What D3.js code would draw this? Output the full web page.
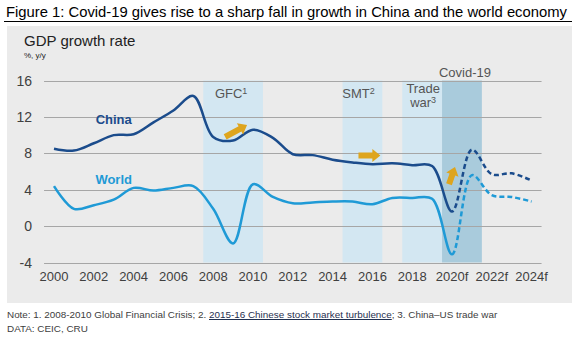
<html>
<head>
<script src="https://d3js.org/d3.v7.min.js"></script>
<style>
body { margin:0; background:#fff; }
text { font-family: Arial, "Liberation Sans", sans-serif; }
</style>
</head>
<body>
<div id="chart"></div>
<script>
// years on the x axis
var years = [2000,2001,2002,2003,2004,2005,2006,2007,2008,2009,2010,2011,2012,
	2013,2014,2015,2016,2017,2018,2019,2020,2021,2022,2023,2024];
// GDP growth, %, y/y
var china = [8.5,8.3,9.1,10.0,10.1,11.4,12.7,14.3,9.8,9.4,10.6,9.7,7.9,
	7.8,7.3,7.0,6.8,6.9,6.7,6.6,1.6,8.4,5.7,5.8,5.0];
var world = [4.4,1.9,2.3,2.9,4.2,3.9,4.2,4.4,1.9,-1.9,4.6,3.2,2.5,
	2.6,2.7,2.7,2.4,3.1,3.1,3.0,-3.1,5.6,3.4,3.2,2.7];
var forecastFrom = 2020;
var xTicks = [2000,2002,2004,2006,2008,2010,2012,2014,2016,2018,2020,2022,2024];
var xTickLabels = ["2000","2002","2004","2006","2008","2010","2012","2014","2016","2018","2020f","2022f","2024f"];
var yTicks = [-4,0,4,8,12,16];
// shaded periods
var bandNames = ["GFC","SMT","Trade war","Covid-19"];
var bandStart = [2008,2015,2018,2020];
var bandEnd = [2010,2016,2019,2021];
// arrows: [year0, value0, year1, value1]
var arrows = [[2008.6,9.8,2009.7,11.1],[2015.3,7.75,2016.4,7.75],[2019.85,4.6,2020.15,6.5]];

var width = 581, height = 338;
var svg = d3.select("#chart").append("svg")
	.attr("width", width).attr("height", height);

svg.append("rect").attr("width", width).attr("height", height).attr("fill", "#fff");

// title + rule
svg.append("text").attr("x", 6).attr("y", 17)
	.style("font-size", "14.8px").attr("fill", "#000")
	.text("Figure 1: Covid-19 gives rise to a sharp fall in growth in China and the world economy");
svg.append("line").attr("x1", 4).attr("x2", 572).attr("y1", 21.5).attr("y2", 21.5)
	.attr("stroke", "#000").attr("stroke-width", 1);

// grey panel
svg.append("rect").attr("x", 7).attr("y", 26).attr("width", 565).attr("height", 277)
	.attr("fill", "#ebebeb");

svg.append("text").attr("x", 24).attr("y", 45.5)
	.style("font-size", "15px").attr("fill", "#222").text("GDP growth rate");
svg.append("text").attr("x", 24).attr("y", 57.5)
	.style("font-size", "8px").attr("fill", "#222").text("%, y/y");

var x = d3.scaleLinear().domain([2000, 2024]).range([54, 531.6]);
var y = d3.scaleLinear().domain([-4, 16]).range([262.5, 80.5]);

// bands
var bands = bandNames.map(function(n, i){ return {name:n, s:bandStart[i], e:bandEnd[i]}; });
svg.append("g").selectAll("rect").data(bands).enter().append("rect")
	.attr("x", function(d){ return x(d.s - 0.5); })
	.attr("width", function(d){ return x(d.e + 0.5) - x(d.s - 0.5); })
	.attr("y", y(16)).attr("height", y(-4) - y(16))
	.attr("fill", function(d){ return d.name == "Covid-19" ? "#a9cbdc" : "#d3e7f2"; });

// gridlines
svg.append("g").selectAll("line").data(yTicks).enter().append("line")
	.attr("x1", x(1999.5)).attr("x2", x(2024.5))
	.attr("y1", function(d){ return Math.round(y(d)) + 0.5; })
	.attr("y2", function(d){ return Math.round(y(d)) + 0.5; })
	.attr("stroke", "#a6a6a6").attr("stroke-width", 1);

// y axis labels
svg.append("g").selectAll("text").data(yTicks).enter().append("text")
	.attr("x", 32).attr("y", function(d){ return y(d) + 5; })
	.attr("text-anchor", "end").style("font-size", "14px").attr("fill", "#404040")
	.text(function(d){ return d; });

// x axis labels
svg.append("g").selectAll("text").data(xTicks).enter().append("text")
	.attr("x", function(d){ return x(d); }).attr("y", 281)
	.attr("text-anchor", "middle").style("font-size", "13px").attr("fill", "#404040")
	.text(function(d, i){ return xTickLabels[i]; });

// band labels
function bandLabel(lines, yr, base){
	var t = svg.append("text").attr("text-anchor", "middle")
		.style("font-size", "13px").attr("fill", "#555");
	lines.forEach(function(l, i){
		var ts = t.append("tspan").attr("x", x(yr)).attr("y", base + i * 14.5).text(l[0]);
		if (l[1]) t.append("tspan").attr("dy", -4).style("font-size", "9px").text(l[1]);
		if (l[1]) t.append("tspan").attr("dy", 4).text("");
	});
}
bandLabel([["GFC","1"]], 2008.9, 97.5);
bandLabel([["SMT","2"]], 2015.3, 97.5);
bandLabel([["Trade",""],["war","3"]], 2018.55, 92.5);
bandLabel([["Covid-19",""]], 2020.65, 77);

// lines, solid up to forecastFrom, dashed after
var defs = svg.append("defs");
defs.append("clipPath").attr("id", "hist").append("rect")
	.attr("x", 0).attr("y", 0).attr("width", x(forecastFrom)).attr("height", height);
defs.append("clipPath").attr("id", "fcst").append("rect")
	.attr("x", x(forecastFrom)).attr("y", 0).attr("width", width).attr("height", height);

var line = d3.line()
	.x(function(d){ return x(d[0]); })
	.y(function(d){ return y(d[1]); })
	.curve(d3.curveCatmullRom.alpha(0.5));

var series = [{vals: china, color: "#1b4c8c"}, {vals: world, color: "#1f9ad6"}];
series.forEach(function(s){
	var pts = years.map(function(yr, i){ return [yr, s.vals[i]]; });
	svg.append("path").attr("d", line(pts)).attr("fill", "none")
		.attr("stroke", s.color).attr("stroke-width", 2.5)
		.attr("clip-path", "url(#hist)");
	svg.append("path").attr("d", line(pts)).attr("fill", "none")
		.attr("stroke", s.color).attr("stroke-width", 2.5)
		.attr("stroke-dasharray", "5,3")
		.attr("clip-path", "url(#fcst)");
});

svg.append("text").attr("x", x(2003)).attr("y", y(11.2)).attr("text-anchor", "middle")
	.style("font-size", "13px").style("font-weight", "bold").attr("fill", "#1b4c8c").text("China");
svg.append("text").attr("x", x(2003)).attr("y", y(4.6)).attr("text-anchor", "middle")
	.style("font-size", "13px").style("font-weight", "bold").attr("fill", "#1f9ad6").text("World");

// arrows
arrows.forEach(function(a){
	var x0 = x(a[0]), y0 = y(a[1]), x1 = x(a[2]), y1 = y(a[3]);
	var dx = x1 - x0, dy = y1 - y0, len = Math.sqrt(dx*dx + dy*dy);
	var ux = dx/len, uy = dy/len, nx = -uy, ny = ux;
	var hl = 8, sw = 3, hw = 6.5;
	var bx = x1 - ux*hl, by = y1 - uy*hl;
	var p = [
		[x0 + nx*sw, y0 + ny*sw], [bx + nx*sw, by + ny*sw], [bx + nx*hw, by + ny*hw],
		[x1, y1], [bx - nx*hw, by - ny*hw], [bx - nx*sw, by - ny*sw], [x0 - nx*sw, y0 - ny*sw]
	];
	svg.append("polygon").attr("points", p.map(function(q){ return q.join(","); }).join(" "))
		.attr("fill", "#dea51e");
});

// footnotes
var note = svg.append("text").attr("x", 7).attr("y", 318)
	.style("font-size", "9.9px").attr("fill", "#404040");
note.append("tspan").text("Note: 1. 2008-2010 Global Financial Crisis; 2. ");
note.append("tspan").style("text-decoration", "underline").attr("fill", "#1f2f4f")
	.text("2015-16 Chinese stock market turbulence");
note.append("tspan").text("; 3. China\u2013US trade war");
svg.append("text").attr("x", 7).attr("y", 332)
	.style("font-size", "9.9px").attr("fill", "#404040").text("DATA: CEIC, CRU");
</script>
</body>
</html>
